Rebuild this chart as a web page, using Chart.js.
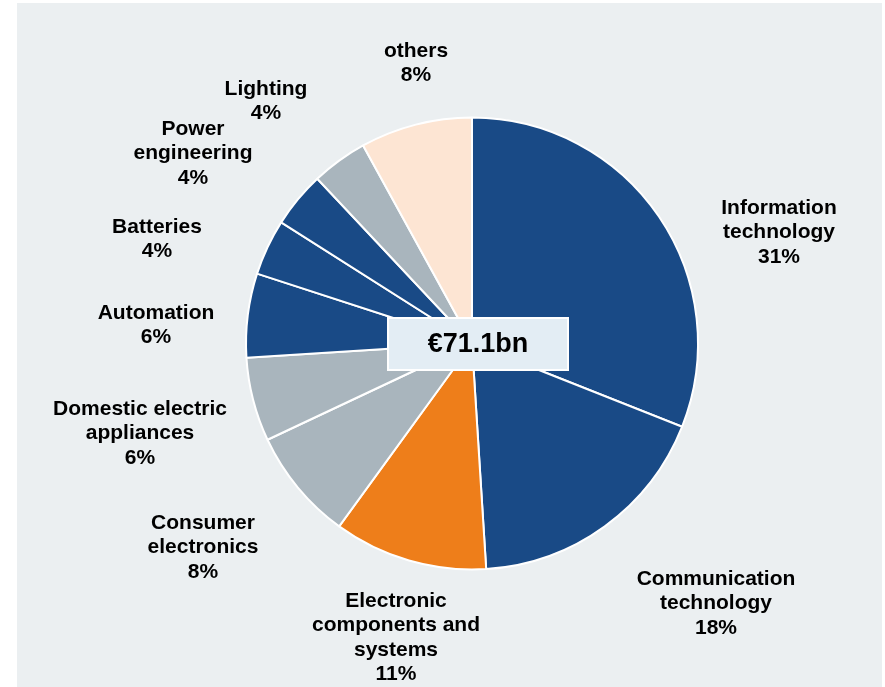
<!DOCTYPE html>
<html>
<head>
<meta charset="utf-8">
<script src="https://cdn.jsdelivr.net/npm/chart.js@4/dist/chart.umd.min.js"></script>
<style>
  html, body { margin: 0; padding: 0; background: #ffffff; }
  #wrap { position: relative; width: 885px; height: 687px; overflow: hidden; }
  #panel { position: absolute; left: 17px; top: 3px; width: 865px; height: 684px; background: #ebeff1; }
  #pie { position: absolute; left: 0; top: 0; }
</style>
</head>
<body>
<div id="wrap">
  <div id="panel"></div>
  <canvas id="pie" width="885" height="687"></canvas>
</div>
<script>
// Chart data
const categories = [
  ["Information", "technology"],
  ["Communication", "technology"],
  ["Electronic", "components and", "systems"],
  ["Consumer", "electronics"],
  ["Domestic electric", "appliances"],
  ["Automation"],
  ["Batteries"],
  ["Power", "engineering"],
  ["Lighting"],
  ["others"],
]
const shares = [31, 18, 11, 8, 6, 6, 4, 4, 4, 8]
const totalLabel = "€71.1bn"

// Colours per slice
const BLUE = "#194a86"
const GREY = "#a9b5bd"
const sliceColors = [BLUE, BLUE, "#ee7e1a", GREY, GREY, BLUE, BLUE, BLUE, GREY, "#fde5d3"]

// Where each label block is centred (first line middle)
const labelPos = [
  [779, 207], [716, 578], [396, 600], [203, 522], [140, 408],
  [156, 312], [157, 226], [193, 128], [266, 88], [416, 50],
]

const labelPlugin = {
  id: "sliceLabels",
  afterDraw(chart) {
    const ctx = chart.ctx
    ctx.save()
    ctx.fillStyle = "#000000"
    ctx.font = "bold 21px 'Liberation Sans', Arial, sans-serif"
    ctx.textAlign = "center"
    ctx.textBaseline = "middle"
    categories.forEach((lines, i) => {
      const [x, y] = labelPos[i]
      const all = lines.concat([shares[i] + "%"])
      all.forEach((t, k) => ctx.fillText(t, x, y + 1 + k * 24.5))
    })

    // total box in the middle
    const bx = 388, by = 318, bw = 180, bh = 52
    ctx.fillStyle = "#e3edf4"
    ctx.fillRect(bx, by, bw, bh)
    ctx.strokeStyle = "#ffffff"
    ctx.lineWidth = 2
    ctx.strokeRect(bx, by, bw, bh)
    ctx.fillStyle = "#000000"
    ctx.font = "bold 27px 'Liberation Sans', Arial, sans-serif"
    ctx.fillText(totalLabel, bx + bw / 2, by + bh / 2 + 1)
    ctx.restore()
  },
}

new Chart(document.getElementById("pie"), {
  type: "pie",
  data: {
    labels: categories.map((c) => c.join(" ")),
    datasets: [
      {
        data: shares,
        backgroundColor: sliceColors,
        borderColor: "#ffffff",
        borderWidth: 2,
        radius: 226,
      },
    ],
  },
  options: {
    responsive: false,
    animation: false,
    layout: {
      padding: { left: 246, right: 187, top: 117, bottom: 117 },
    },
    plugins: {
      legend: { display: false },
      tooltip: { enabled: false },
    },
  },
  plugins: [labelPlugin],
})
</script>
</body>
</html>
